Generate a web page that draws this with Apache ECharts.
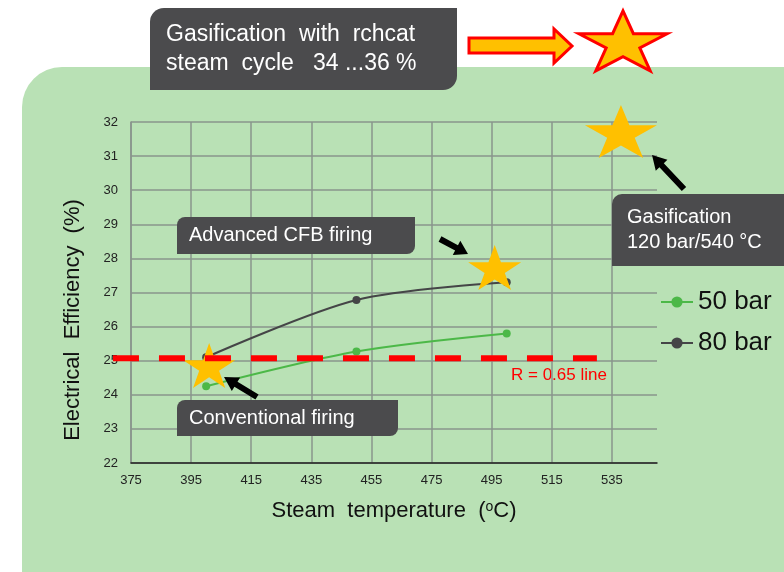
<!DOCTYPE html>
<html>
<head>
<meta charset="utf-8">
<script src="https://cdn.jsdelivr.net/npm/echarts@6/dist/echarts.min.js"></script>
<style>
  html, body { margin: 0; padding: 0; background: #fff; }
  #main { width: 784px; height: 572px; }
</style>
</head>
<body>
<div id="main"></div>
<script>
// data
var temps50 = [400, 450, 500];
var eff50 = [24.25, 25.27, 25.8];
var temps80 = [400, 450, 500];
var eff80 = [25.1, 26.78, 27.3];
var starTemps = [401, 496, 538];
var starEff = [24.86, 27.73, 31.72];
var rLineTemps = [369, 530];
var rLineEff = [25.07, 25.07];
var seriesNames = ['50 bar', '80 bar'];

var FONT = '"Liberation Sans", Arial, sans-serif';
var BOX = '#4b4b4d';
var GOLD = '#FFC000';
var STAR = 'path://M0,-100 L22.45,-30.9 L95.1,-30.9 L36.33,11.8 L58.8,80.9 L0,38.2 L-58.8,80.9 L-36.33,11.8 L-95.1,-30.9 L-22.45,-30.9 Z';
var starSizes = [[52, 45], [53, 45], [72, 53]];

function pairs(xs, ys) {
    return xs.map(function (x, i) { return [x, ys[i]]; });
}

// black block arrow from tail to tip
function arrow(tail, tip, shaft, head, headLen) {
    var dx = tip[0] - tail[0], dy = tip[1] - tail[1];
    var len = Math.sqrt(dx * dx + dy * dy);
    var ux = dx / len, uy = dy / len, nx = -uy, ny = ux;
    var bx = tip[0] - ux * headLen, by = tip[1] - uy * headLen;
    return [
        [tail[0] + nx * shaft / 2, tail[1] + ny * shaft / 2],
        [bx + nx * shaft / 2, by + ny * shaft / 2],
        [bx + nx * head / 2, by + ny * head / 2],
        tip,
        [bx - nx * head / 2, by - ny * head / 2],
        [bx - nx * shaft / 2, by - ny * shaft / 2],
        [tail[0] - nx * shaft / 2, tail[1] - ny * shaft / 2]
    ];
}

function starPoints(cx, cy, sx, sy) {
    var pts = [];
    for (var i = 0; i < 10; i++) {
        var a = -Math.PI / 2 + i * Math.PI / 5;
        var r = i % 2 === 0 ? 1 : 0.382;
        pts.push([cx + Math.cos(a) * r * sx, cy + Math.sin(a) * r * sy]);
    }
    return pts;
}

function box(x, y, w, h, r, lines, fontSize, tx, lineH) {
    var els = [{
        type: 'rect', shape: { x: x, y: y, width: w, height: h, r: r },
        style: { fill: BOX }, z: 20
    }];
    lines.forEach(function (t, i) {
        els.push({
            type: 'text', x: tx, y: y + h / 2 + (i - (lines.length - 1) / 2) * lineH, z: 21,
            style: { text: t, fill: '#fff', font: fontSize + 'px ' + FONT, verticalAlign: 'middle' }
        });
    });
    return els;
}

var chartDom = document.getElementById('main');
var myChart = echarts.init(chartDom);
var option;

var gridColor = '#8a958c';
var xSplitColors = [];
for (var i = 0; i < 9; i++) xSplitColors.push(gridColor);
xSplitColors.push('rgba(0,0,0,0)');

var graphics = [
    {
        type: 'rect', shape: { x: 22, y: 67, width: 800, height: 540, r: [40, 0, 0, 0] },
        style: { fill: '#b9e1b5' }, z: -100
    },
    {
        type: 'text', x: 73, y: 320, rotation: Math.PI / 2,
        style: { text: 'Electrical  Efficiency  (%)', fill: '#111', font: '22px ' + FONT, align: 'center', verticalAlign: 'middle' }
    },
    {
        type: 'text', x: 511, y: 375,
        style: { text: 'R = 0.65 line', fill: '#ff0000', font: '17px ' + FONT, verticalAlign: 'middle' }
    },
    { type: 'polygon', shape: { points: arrow([257, 397], [224, 377], 6, 16, 14) }, style: { fill: '#000' }, z: 22 },
    { type: 'polygon', shape: { points: arrow([440, 239], [468, 254], 6, 16, 13) }, style: { fill: '#000' }, z: 22 },
    { type: 'polygon', shape: { points: arrow([684, 189], [652, 155], 6, 16, 14) }, style: { fill: '#000' }, z: 22 },
    {
        type: 'polygon',
        shape: { points: [[469, 38], [554, 38], [554, 29], [572, 46], [554, 63], [554, 53], [469, 53]] },
        style: { fill: GOLD, stroke: '#ff0000', lineWidth: 3 }, z: 22
    },
    {
        type: 'polygon', shape: { points: starPoints(623, 44, 46.3, 33.2) },
        style: { fill: GOLD, stroke: '#ff0000', lineWidth: 3 }, z: 22
    }
]
    .concat(box(150, 8, 307, 82, [14, 0, 14, 0], ['Gasification  with  rchcat', 'steam  cycle   34 ...36 %'], 23, 166, 29))
    .concat(box(177, 217, 238, 37, [8, 0, 8, 0], ['Advanced CFB firing'], 20, 189, 0))
    .concat(box(177, 400, 221, 36, [8, 0, 8, 0], ['Conventional firing'], 20, 189, 0))
    .concat(box(612, 194, 190, 72, [10, 0, 0, 0], ['Gasification', '120 bar/540 \u00b0C'], 20, 627, 25));

option = {
    backgroundColor: '#fff',
    animation: false,
    textStyle: { fontFamily: FONT },
    graphic: graphics,
    grid: { left: 131, top: 122, width: 526, height: 341 },
    legend: {
        data: seriesNames,
        orient: 'vertical',
        left: 655,
        top: 283,
        itemWidth: 32,
        itemHeight: 14,
        itemGap: 13,
        textStyle: { fontSize: 26, color: '#111', lineHeight: 28, fontFamily: FONT }
    },
    xAxis: {
        type: 'value',
        min: 375,
        max: 550,
        interval: 20,
        name: 'Steam  temperature  ({sup|o}C)',
        nameLocation: 'middle',
        nameGap: 37,
        nameTextStyle: {
            fontSize: 22, color: '#111', fontFamily: FONT,
            rich: { sup: { fontSize: 14, verticalAlign: 'top', padding: [0, 0, 8, 0], color: '#111' } }
        },
        axisLine: { show: true, lineStyle: { color: '#222', width: 1.5 } },
        axisTick: { show: false },
        axisLabel: { fontSize: 13, color: '#222', margin: 11, showMaxLabel: false },
        splitLine: { show: true, lineStyle: { color: xSplitColors, width: 1.5 } }
    },
    yAxis: {
        type: 'value',
        min: 22,
        max: 32,
        interval: 1,
        axisLine: { show: true, lineStyle: { color: gridColor, width: 1.5 } },
        axisTick: { show: false },
        axisLabel: { fontSize: 13, color: '#222', margin: 13 },
        splitLine: { show: true, lineStyle: { color: gridColor, width: 1.5 } }
    },
    series: [
        {
            name: seriesNames[0],
            type: 'line',
            data: pairs(temps50, eff50),
            smooth: 0.3,
            symbol: 'circle',
            symbolSize: 8,
            itemStyle: { color: '#4cb848' },
            lineStyle: { color: '#4cb848', width: 2 },
            z: 3
        },
        {
            name: seriesNames[1],
            type: 'line',
            data: pairs(temps80, eff80),
            smooth: 0.3,
            symbol: 'circle',
            symbolSize: 8,
            itemStyle: { color: '#454547' },
            lineStyle: { color: '#454547', width: 2 },
            z: 3
        },
        {
            name: 'stars',
            type: 'scatter',
            data: pairs(starTemps, starEff).map(function (p, i) {
                return { value: p, symbolSize: starSizes[i] };
            }),
            symbol: STAR,
            itemStyle: { color: GOLD, opacity: 1 },
            clip: false,
            z: 4
        }
    ]
};

option && myChart.setOption(option);

// R = 0.65 dashed line runs past the y axis, so place it through the axes' own scales
var rPts = pairs(rLineTemps, rLineEff).map(function (p) {
    return myChart.convertToPixel({ gridIndex: 0 }, p);
});
graphics.push({
    type: 'line',
    shape: { x1: rPts[0][0], y1: rPts[0][1], x2: rPts[1][0], y2: rPts[1][1] },
    style: { stroke: '#ff0000', lineWidth: 6, lineDash: [26, 20] },
    z: 10
});
myChart.setOption({ graphic: graphics });
</script>
</body>
</html>
